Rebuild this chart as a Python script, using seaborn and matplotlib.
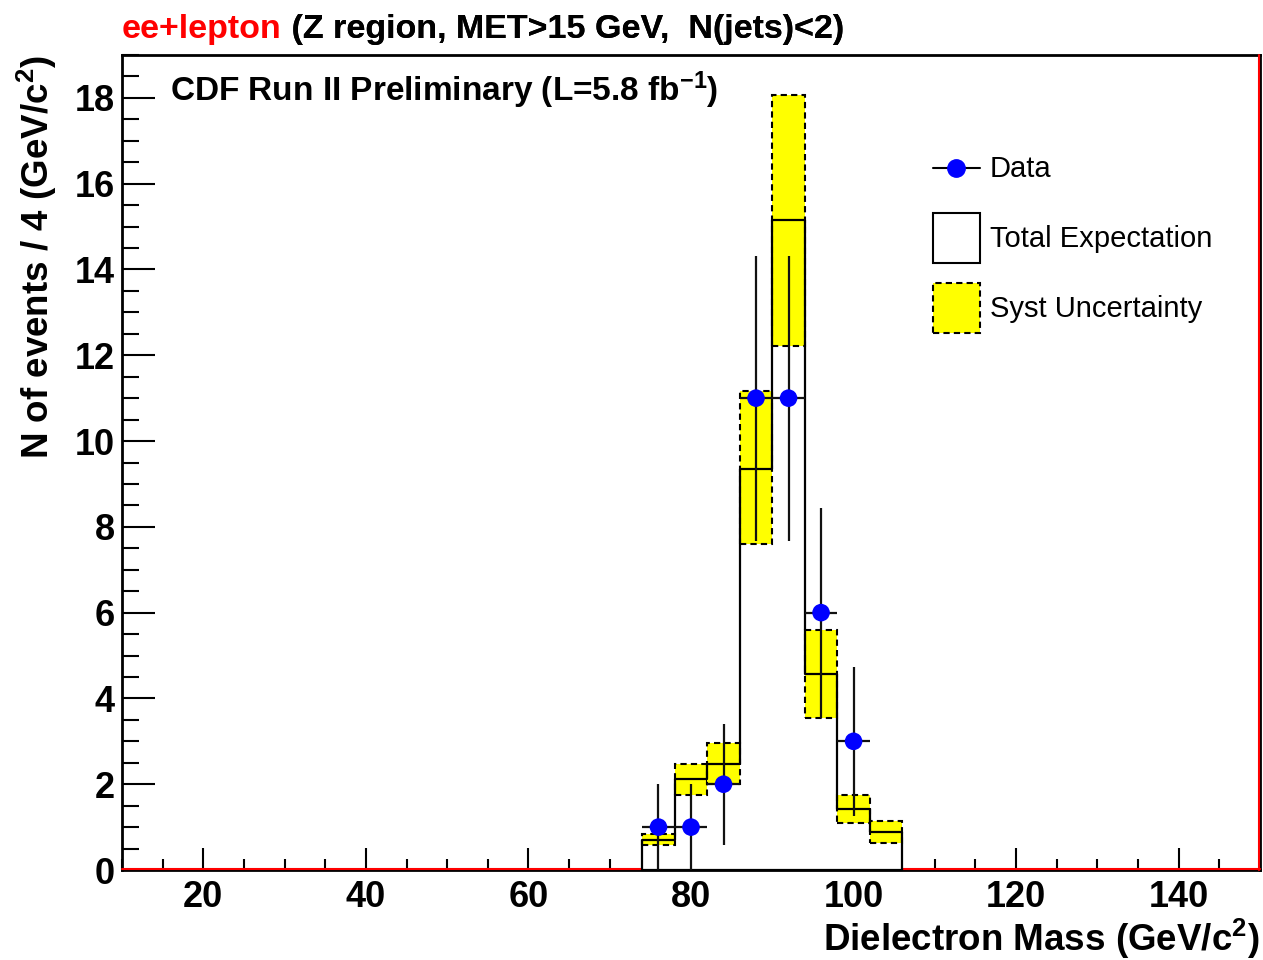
import numpy as np
import pandas as pd
import matplotlib
matplotlib.use("Agg")
import matplotlib.pyplot as plt
from matplotlib.lines import Line2D
from matplotlib.patches import Patch
from matplotlib.ticker import MultipleLocator
from matplotlib.legend_handler import HandlerLine2D
import matplotlib.transforms as mtransforms
import seaborn as sns

# ---- data ----
bin_edges = [74, 78, 82, 86, 90, 94, 98, 102, 106]
expected = [0.70, 2.13, 2.48, 9.36, 15.15, 4.56, 1.42, 0.88]
syst_hi = [0.84, 2.48, 2.96, 11.16, 18.06, 5.60, 1.76, 1.14]
syst_lo = [0.58, 1.76, 2.00, 7.60, 12.22, 3.54, 1.09, 0.62]
data_x = [76, 80, 84, 88, 92, 96, 100]
data_y = [1, 1, 2, 11, 11, 6, 3]
data_err = [1.0, 1.0, 1.41, 3.32, 3.32, 2.45, 1.73]
x_ticks = [20, 40, 60, 80, 100, 120, 140]
y_ticks = [0, 2, 4, 6, 8, 10, 12, 14, 16, 18]

sns.set_style("ticks")
plt.rcParams["font.family"] = ["Liberation Sans", "DejaVu Sans"]
plt.rcParams["mathtext.fontset"] = "custom"
plt.rcParams["mathtext.rm"] = "Liberation Sans"
plt.rcParams["mathtext.bf"] = "Liberation Sans:bold"
plt.rcParams["mathtext.default"] = "regular"
for k in ["text.color", "axes.labelcolor", "xtick.color", "ytick.color",
          "axes.edgecolor"]:
    plt.rcParams[k] = "black"


class CenteredLineHandler(HandlerLine2D):
    """Legend line handler that puts the line at the vertical centre of the box."""
    def create_artists(self, legend, orig_handle, xdescent, ydescent, width,
                       height, fontsize, trans):
        return super().create_artists(legend, orig_handle, xdescent,
                                      2 * ydescent, width, height, fontsize,
                                      trans)


fig = plt.figure(figsize=(12.63, 9.6), dpi=100)
ax = fig.add_axes([122 / 1263, 90 / 960, 1138 / 1263, 815 / 960])

edges = np.array(bin_edges, dtype=float)
centers = (edges[:-1] + edges[1:]) / 2
widths = np.diff(edges)
lo = np.array(syst_lo)
hi = np.array(syst_hi)

# red empty-histogram outline along zero and right edge (just inside frame)
up = mtransforms.offset_copy(ax.transAxes, fig=fig, x=0, y=1.5, units="dots")
left = mtransforms.offset_copy(ax.transAxes, fig=fig, x=-1.5, y=0, units="dots")
ax.plot([0, 1], [0, 0], color="#ff0000", lw=1.5, transform=up, zorder=3.5,
        clip_on=False)
ax.plot([1, 1], [0, 1], color="#ff0000", lw=1.5, transform=left, zorder=3.5,
        clip_on=False)

exp_df = pd.DataFrame({"mass": centers, "n": expected})
hist_bins = [float(e) for e in bin_edges]

# white fill of the expectation histogram (hides the red line underneath)
sns.histplot(data=exp_df, x="mass", weights="n", bins=hist_bins,
             element="step", fill=True, color="white", facecolor="white",
             edgecolor="none", linewidth=0, ax=ax, zorder=3.6, legend=False,
             alpha=1)

# systematic uncertainty bands
ax.bar(centers, hi - lo, bottom=lo, width=widths, color="#ffff00",
       edgecolor="black", linestyle=(0, (3, 2)), linewidth=1.5, zorder=3.8)

# total expectation outline
sns.histplot(data=exp_df, x="mass", weights="n", bins=hist_bins,
             element="step", fill=True, color="black", facecolor="none",
             edgecolor="black", linewidth=1.6, ax=ax, zorder=4, legend=False,
             clip_on=False)

# data
ax.errorbar(data_x, data_y, xerr=2, yerr=data_err, fmt="none",
            ecolor="#111111", elinewidth=1.6, capsize=0, zorder=5)
sns.scatterplot(x=data_x, y=data_y, color="#0000ff", s=160, edgecolor="none",
                ax=ax, zorder=6, legend=False)

ax.set_xlim(10, 150)
ax.set_ylim(0, 19)
ax.set_xticks(x_ticks)
ax.set_yticks(y_ticks)
ax.xaxis.set_minor_locator(MultipleLocator(5))
ax.yaxis.set_minor_locator(MultipleLocator(0.5))
ax.tick_params(axis="both", which="both", direction="in", width=1.5,
               top=False, right=False)
ax.tick_params(axis="x", which="major", length=16, pad=7)
ax.tick_params(axis="x", which="minor", length=8)
ax.tick_params(axis="y", which="major", length=24, pad=5)
ax.tick_params(axis="y", which="minor", length=12)
for lab in ax.get_xticklabels() + ax.get_yticklabels():
    lab.set_fontsize(26)
    lab.set_fontweight("bold")
for sp in ax.spines.values():
    sp.set_linewidth(2.0)
    sp.set_color("black")
    sp.set_visible(True)

ax.set_xlabel("Dielectron Mass (GeV/c$^{2}$)", fontsize=26.5,
              fontweight="bold", loc="right")
ax.xaxis.set_label_coords(1.0, -0.058)
ax.set_ylabel("N of events / 4 (GeV/c$^{2}$)", fontsize=26.5,
              fontweight="bold", loc="top")
ax.yaxis.set_label_coords(-0.055, 1.0)

ax.text(0.042, 0.957, "CDF Run II Preliminary (L=5.8 fb$^{-1}$)",
        transform=ax.transAxes, fontsize=24, fontweight="bold",
        ha="left", va="center")

t1 = fig.text(122 / 1263, 1 - 45 / 960, "ee+lepton", color="#ff0000",
              fontsize=24.5, fontweight="bold", ha="left", va="bottom")
fig.texts.append(ax.annotate(" (Z region, MET>15 GeV,  N(jets)<2)",
                             xy=(1, 0), xycoords=t1, ha="left", va="bottom",
                             fontsize=24.5, fontweight="bold", color="black",
                             annotation_clip=False))

handles = [
    Line2D([0], [0], color="black", lw=1.5, marker="o", markersize=12.5,
           markerfacecolor="#0000ff", markeredgecolor="#0000ff"),
    Patch(facecolor="white", edgecolor="black", linewidth=1.5),
    Patch(facecolor="#ffff00", edgecolor="black", linewidth=1.5,
          linestyle=(0, (3, 2))),
]
labels = ["Data", "Total Expectation", "Syst Uncertainty"]
fig.legend(handles, labels, loc="upper left",
           bbox_to_anchor=(933 / 1263, 1 - 143 / 960), frameon=False,
           fontsize=21, handlelength=1.61, handleheight=2.26,
           labelspacing=0.685, handletextpad=0.34, borderpad=0,
           borderaxespad=0,
           handler_map={Line2D: CenteredLineHandler()})

fig.savefig("out.png", dpi=100, facecolor="white")
